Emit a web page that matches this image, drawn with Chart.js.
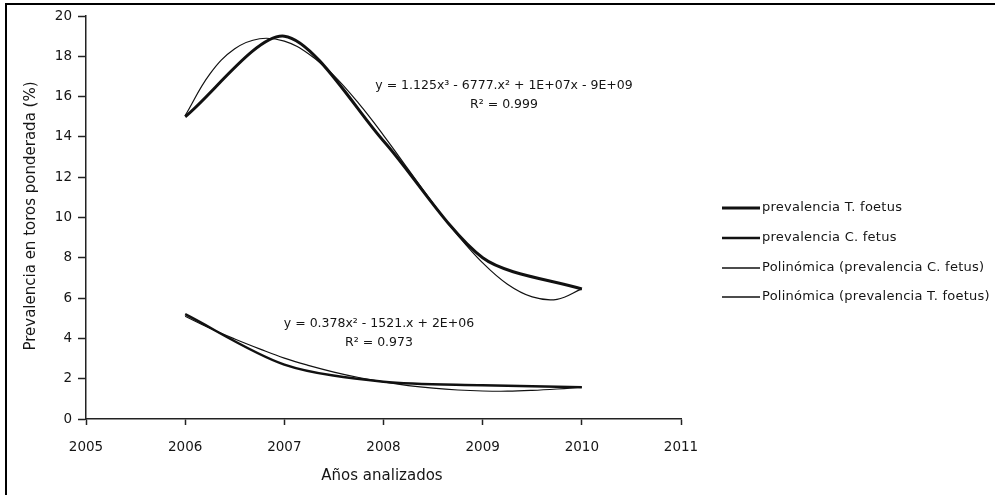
<!DOCTYPE html>
<html><head><meta charset="utf-8">
<script src="https://cdn.jsdelivr.net/npm/chart.js@4/dist/chart.umd.min.js"></script>
<style>html,body{margin:0;padding:0;background:#fff}#wrap{width:995px;height:495px;position:relative}</style>
</head><body><div id="wrap"><canvas id="c" width="995" height="495"></canvas></div>
<script>
// ---- data ----
const years = [2006, 2007, 2008, 2009, 2010];
const tFoetus = [15.0, 19.0, 13.8, 8.0, 6.45];
const cFetus = [5.2, 2.7, 1.85, 1.68, 1.58];
const trendYears = [2006, 2006.25, 2006.5, 2006.75, 2007, 2007.25, 2007.5, 2007.75, 2008,
                    2008.25, 2008.5, 2008.75, 2009, 2009.25, 2009.5, 2009.75, 2010];
const trendTFoetus = [15.06, 17.13, 18.37, 18.87, 18.75, 18.10, 17.04, 15.66, 14.08,
                      12.39, 10.70, 9.12, 7.75, 6.69, 6.06, 5.94, 6.46];
const trendCFetus = [5.1, 4.5, 3.97, 3.48, 3.02, 2.65, 2.33, 2.06, 1.84,
                     1.66, 1.53, 1.44, 1.39, 1.38, 1.42, 1.49, 1.58];
const xTicks = [2005, 2006, 2007, 2008, 2009, 2010, 2011];
const yTicks = [0, 2, 4, 6, 8, 10, 12, 14, 16, 18, 20];
const seriesLabels = ['prevalencia T. foetus', 'prevalencia C. fetus',
                      'Polinómica (prevalencia C. fetus)', 'Polinómica (prevalencia T. foetus)'];
const xTitle = 'Años analizados';
const yTitle = 'Prevalencia en toros ponderada (%)';
const eqUpper = ['y = 1.125x³ - 6777.x² + 1E+07x - 9E+09', 'R² = 0.999'];
const eqLower = ['y = 0.378x² - 1521.x + 2E+06', 'R² = 0.973'];

const FONT = '"DejaVu Sans", sans-serif';
const INK = '#151515';
const toPts = (xs, ys) => xs.map((x, i) => ({x: x, y: ys[i]}));

const deco = {
  id: 'deco',
  afterDraw(chart) {
    const ctx = chart.ctx;
    ctx.save();
    // frame (top + left)
    ctx.strokeStyle = '#000'; ctx.lineWidth = 2;
    ctx.beginPath(); ctx.moveTo(6, 495); ctx.lineTo(6, 4); ctx.lineTo(995, 4); ctx.stroke();
    ctx.fillStyle = INK;
    // axis titles
    ctx.font = '15px ' + FONT;
    ctx.textAlign = 'center'; ctx.textBaseline = 'middle';
    ctx.fillText(xTitle, 382, 476);
    ctx.save(); ctx.translate(31, 216); ctx.rotate(-Math.PI / 2);
    ctx.fillText(yTitle, 0, 0); ctx.restore();
    // equations
    ctx.font = '12.5px ' + FONT;
    ctx.fillText(eqUpper[0], 504, 86);
    ctx.fillText(eqUpper[1], 504, 105);
    ctx.fillText(eqLower[0], 379, 324);
    ctx.fillText(eqLower[1], 379, 343);
    // legend
    const ly = [208, 238, 268, 297];
    ctx.textAlign = 'left';
    ctx.font = '13px ' + FONT;
    try { ctx.letterSpacing = '0.25px'; } catch (e) {}
    chart.data.datasets.forEach((ds, i) => {
      ctx.strokeStyle = ds.borderColor;
      ctx.lineWidth = Math.max(1.6, ds.borderWidth);
      ctx.beginPath(); ctx.moveTo(722, ly[i]); ctx.lineTo(760, ly[i]); ctx.stroke();
      ctx.fillText(ds.label, 762, ly[i]);
    });
    ctx.restore();
  }
};

new Chart(document.getElementById('c'), {
  type: 'scatter',
  data: {
    datasets: [
      {label: seriesLabels[0], data: toPts(years, tFoetus), showLine: true, borderColor: '#111', borderWidth: 3, pointRadius: 0, tension: 0.28, order: 2},
      {label: seriesLabels[1], data: toPts(years, cFetus), showLine: true, borderColor: '#111', borderWidth: 2.5, pointRadius: 0, tension: 0.3, order: 2},
      {label: seriesLabels[2], data: toPts(trendYears, trendCFetus), showLine: true, borderColor: '#111', borderWidth: 1.2, pointRadius: 0, tension: 0.4, order: 1},
      {label: seriesLabels[3], data: toPts(trendYears, trendTFoetus), showLine: true, borderColor: '#111', borderWidth: 1.2, pointRadius: 0, tension: 0.4, order: 1}
    ]
  },
  options: {
    responsive: false,
    animation: false,
    devicePixelRatio: 1,
    layout: {padding: {left: 0, right: 314, top: 16, bottom: 0}},
    plugins: {legend: {display: false}, tooltip: {enabled: false}},
    scales: {
      x: {
        type: 'linear', min: 2005, max: 2011,
        afterFit(s) { s.height = 76; },
        afterBuildTicks(s) { s.ticks = xTicks.map(v => ({value: v})); },
        ticks: {color: INK, font: {family: FONT, size: 13.5}, padding: 14, callback: v => String(v), maxRotation: 0},
        grid: {drawOnChartArea: false, drawTicks: true, tickLength: 6, tickColor: '#222', tickWidth: 1.5},
        border: {display: true, color: '#222', width: 1.5}
      },
      y: {
        min: 0, max: 20,
        afterFit(s) { s.width = 86; },
        afterBuildTicks(s) { s.ticks = yTicks.map(v => ({value: v})); },
        ticks: {color: INK, font: {family: FONT, size: 13.5}, padding: 6},
        grid: {drawOnChartArea: false, drawTicks: true, tickLength: 8, tickColor: '#222', tickWidth: 1.5},
        border: {display: true, color: '#222', width: 1.5}
      }
    }
  },
  plugins: [deco]
});
</script>
</body></html>
